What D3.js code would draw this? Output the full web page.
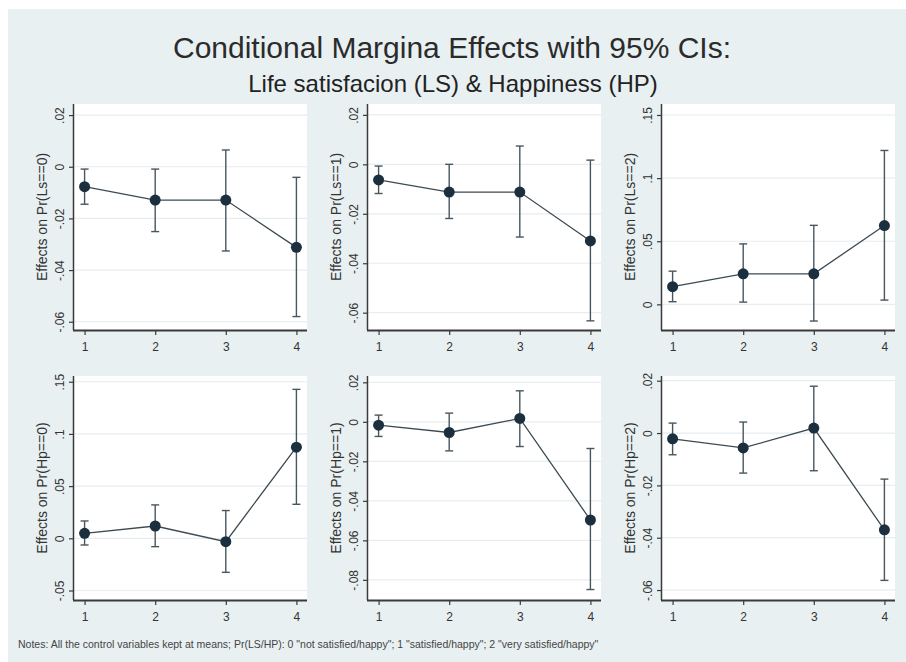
<!DOCTYPE html>
<html>
<head>
<meta charset="utf-8">
<script src="https://cdn.jsdelivr.net/npm/d3@7"></script>
<style>
  html, body { margin: 0; padding: 0; background: #ffffff; }
  svg { display: block; font-family: "Liberation Sans", Arial, sans-serif; }
</style>
</head>
<body>
<svg id="chart" width="906" height="662"></svg>
<script>
// Outcome categories on the x axis
const categories = [1, 2, 3, 4];

// Panel titles (y axis)
const panelTitles = [
  "Effects on Pr(Ls==0)", "Effects on Pr(Ls==1)", "Effects on Pr(Ls==2)",
  "Effects on Pr(Hp==0)", "Effects on Pr(Hp==1)", "Effects on Pr(Hp==2)"
];

// Marginal effects and 95% confidence bounds
const ls0Est = [-0.0077, -0.0129, -0.0129, -0.0312];
const ls0Lo  = [-0.0145, -0.0251, -0.0326, -0.0580];
const ls0Hi  = [-0.0009, -0.0009,  0.0065, -0.0041];

const ls1Est = [-0.0063, -0.0112, -0.0112, -0.0310];
const ls1Lo  = [-0.0118, -0.0219, -0.0294, -0.0633];
const ls1Hi  = [-0.0007,  0.0000,  0.0074,  0.0017];

const ls2Est = [0.0140, 0.0242, 0.0242, 0.0624];
const ls2Lo  = [0.0021, 0.0018, -0.0132, 0.0034];
const ls2Hi  = [0.0263, 0.0479, 0.0626, 0.1219];

const hp0Est = [0.0048, 0.0118, -0.0032, 0.0873];
const hp0Lo  = [-0.0064, -0.0080, -0.0326, 0.0326];
const hp0Hi  = [0.0166, 0.0320, 0.0266, 0.1427];

const hp1Est = [-0.0017, -0.0054, 0.0017, -0.0497];
const hp1Lo  = [-0.0074, -0.0147, -0.0125, -0.0849];
const hp1Hi  = [0.0034, 0.0044, 0.0157, -0.0135];

const hp2Est = [-0.0022, -0.0057, 0.0019, -0.0370];
const hp2Lo  = [-0.0083, -0.0153, -0.0144, -0.0563];
const hp2Hi  = [0.0038, 0.0042, 0.0179, -0.0176];

// Y axis tick values for each panel
const ls0Ticks = [0.02, 0, -0.02, -0.04, -0.06];
const ls1Ticks = [0.02, 0, -0.02, -0.04, -0.06];
const ls2Ticks = [0.15, 0.1, 0.05, 0];
const hp0Ticks = [0.15, 0.1, 0.05, 0, -0.05];
const hp1Ticks = [0.02, 0, -0.02, -0.04, -0.06, -0.08];
const hp2Ticks = [0.02, 0, -0.02, -0.04, -0.06];

// Y axis ranges (bottom, top) for each panel
const ls0Range = [-0.0632, 0.0243];
const ls1Range = [-0.0670, 0.0244];
const ls2Range = [-0.0203, 0.1587];
const hp0Range = [-0.0591, 0.1555];
const hp1Range = [-0.0902, 0.0232];
const hp2Range = [-0.0638, 0.0218];

const xRange = [0.85, 4.15];

const titleText = "Conditional Margina Effects with 95% CIs:";
const subtitleText = "Life satisfacion (LS) & Happiness (HP)";
const noteText = "Notes: All the control variables kept at means; Pr(LS/HP): 0 \"not satisfied/happy\"; 1 \"satisfied/happy\"; 2 \"very satisfied/happy\"";

const panels = [
  { title: panelTitles[0], est: ls0Est, lo: ls0Lo, hi: ls0Hi, ticks: ls0Ticks, range: ls0Range },
  { title: panelTitles[1], est: ls1Est, lo: ls1Lo, hi: ls1Hi, ticks: ls1Ticks, range: ls1Range },
  { title: panelTitles[2], est: ls2Est, lo: ls2Lo, hi: ls2Hi, ticks: ls2Ticks, range: ls2Range },
  { title: panelTitles[3], est: hp0Est, lo: hp0Lo, hi: hp0Hi, ticks: hp0Ticks, range: hp0Range },
  { title: panelTitles[4], est: hp1Est, lo: hp1Lo, hi: hp1Hi, ticks: hp1Ticks, range: hp1Range },
  { title: panelTitles[5], est: hp2Est, lo: hp2Lo, hi: hp2Hi, ticks: hp2Ticks, range: hp2Range }
];

// Grid layout of the six plot regions
const colLeft = [74, 368, 662];
const plotW = 233;
const rowTop = [104, 376];
const rowBottom = [330, 600];

const svg = d3.select("#chart");

// Graph region background
svg.append("rect")
  .attr("x", 8).attr("y", 9)
  .attr("width", 906 - 8).attr("height", 662 - 9)
  .attr("fill", "#e8f0f2");

svg.append("text")
  .attr("x", 452).attr("y", 58)
  .attr("text-anchor", "middle")
  .attr("font-size", 30)
  .attr("fill", "#2b2b2b")
  .text(titleText);

svg.append("text")
  .attr("x", 453).attr("y", 92)
  .attr("text-anchor", "middle")
  .attr("font-size", 24)
  .attr("fill", "#222")
  .text(subtitleText);

svg.append("text")
  .attr("x", 18).attr("y", 648)
  .attr("font-size", 10.5)
  .attr("fill", "#444")
  .text(noteText);

const fmt = d => d === 0 ? "0" : String(+d.toFixed(3)).replace("0.", ".");

panels.forEach((p, i) => {
  const col = i % 3, row = Math.floor(i / 3);
  const x0 = colLeft[col], x1 = x0 + plotW;
  const yTop = rowTop[row], yBot = rowBottom[row];

  const x = d3.scaleLinear().domain(xRange).range([x0, x1]);
  const y = d3.scaleLinear().domain(p.range).range([yBot, yTop]);

  const g = svg.append("g");

  // plot region
  g.append("rect")
    .attr("x", x0).attr("y", yTop)
    .attr("width", plotW).attr("height", yBot - yTop)
    .attr("fill", "#ffffff");

  // horizontal grid lines
  g.selectAll("line.grid").data(p.ticks).join("line")
    .attr("class", "grid")
    .attr("x1", x0).attr("x2", x1)
    .attr("y1", d => y(d)).attr("y2", d => y(d))
    .attr("stroke", "#e6eef0").attr("stroke-width", 1.2);

  // y axis
  const yAxis = d3.axisLeft(y).tickValues(p.ticks).tickFormat(fmt).tickSize(5).tickPadding(0);
  const ya = g.append("g").attr("transform", `translate(${x0},0)`).call(yAxis);
  ya.select(".domain").attr("stroke", "#3a3a3a").attr("stroke-width", 1.5)
    .attr("d", `M-0.5,${yBot}V${yTop}`);
  ya.selectAll(".tick line").attr("stroke", "#3a3a3a").attr("stroke-width", 1.2);
  ya.selectAll(".tick text")
    .attr("font-size", 12).attr("fill", "#333")
    .attr("x", null).attr("dy", null)
    .attr("text-anchor", "middle")
    .attr("transform", "translate(-10,0) rotate(-90)");

  // x axis
  const xAxis = d3.axisBottom(x).tickValues(categories).tickFormat(d3.format("d")).tickSize(5).tickPadding(7);
  const xa = g.append("g").attr("transform", `translate(0,${yBot})`).call(xAxis);
  xa.select(".domain").attr("stroke", "#3a3a3a").attr("stroke-width", 1.8)
    .attr("d", `M${x0 - 1},0.5H${x1}`);
  xa.selectAll(".tick line").attr("stroke", "#3a3a3a").attr("stroke-width", 1.2);
  xa.selectAll(".tick text").attr("font-size", 12).attr("fill", "#333");

  // y axis title
  g.append("text")
    .attr("transform", `translate(${x0 - 27},${(yTop + yBot) / 2}) rotate(-90)`)
    .attr("text-anchor", "middle")
    .attr("font-size", 14)
    .attr("fill", "#333")
    .text(p.title);

  const pts = categories.map((c, k) => ({ c, est: p.est[k], lo: p.lo[k], hi: p.hi[k] }));

  // confidence intervals
  const ci = g.selectAll("g.ci").data(pts).join("g").attr("class", "ci")
    .attr("stroke", "#48565e").attr("stroke-width", 1.4);
  ci.append("line")
    .attr("x1", d => x(d.c)).attr("x2", d => x(d.c))
    .attr("y1", d => y(d.lo)).attr("y2", d => y(d.hi));
  ci.append("line")
    .attr("x1", d => x(d.c) - 4).attr("x2", d => x(d.c) + 4)
    .attr("y1", d => y(d.lo)).attr("y2", d => y(d.lo));
  ci.append("line")
    .attr("x1", d => x(d.c) - 4).attr("x2", d => x(d.c) + 4)
    .attr("y1", d => y(d.hi)).attr("y2", d => y(d.hi));

  // connecting line
  g.append("path")
    .datum(pts)
    .attr("fill", "none")
    .attr("stroke", "#3c4a52")
    .attr("stroke-width", 1.3)
    .attr("d", d3.line().x(d => x(d.c)).y(d => y(d.est)));

  // point estimates
  g.selectAll("circle.pt").data(pts).join("circle")
    .attr("class", "pt")
    .attr("cx", d => x(d.c)).attr("cy", d => y(d.est))
    .attr("r", 5.5)
    .attr("fill", "#1b2f3e");
});
</script>
</body>
</html>
